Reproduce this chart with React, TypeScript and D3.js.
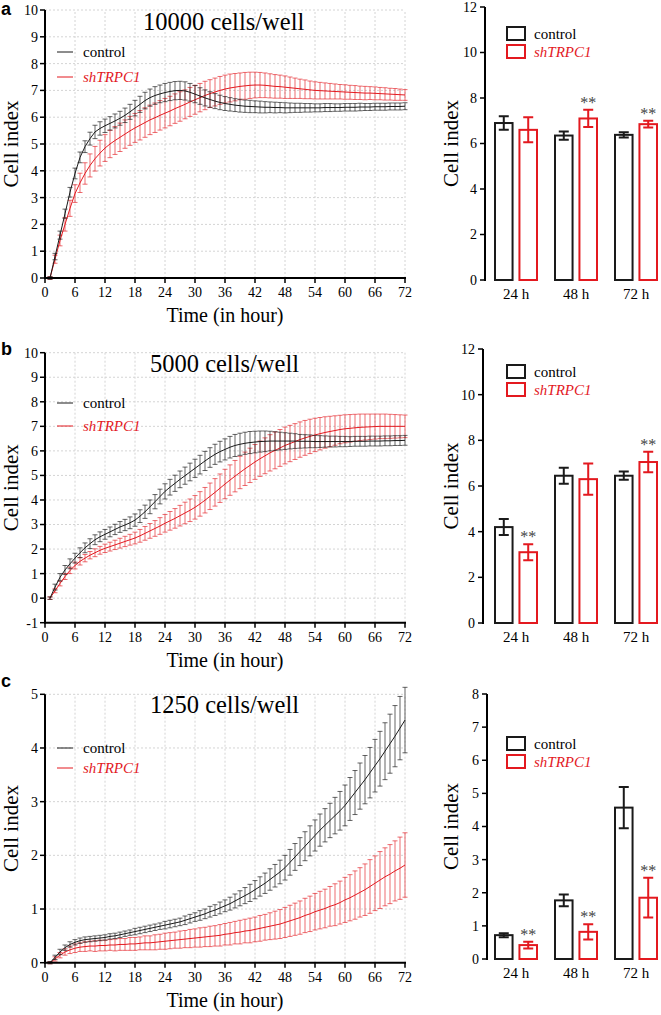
import * as d3 from 'd3';

// sampling times (hours) of the impedance readings
const HOURS = d3.range(1, 73);
const HOUR_TICKS = [0, 6, 12, 18, 24, 30, 36, 42, 48, 54, 60, 66, 72];

// panel a: 10000 cells/well
const A_CTRL = [
  0, 0.8, 1.6, 2.4, 3.2, 3.9, 4.5, 4.9, 5.2, 5.45, 5.58, 5.68,
  5.77, 5.86, 5.96, 6.07, 6.2, 6.34, 6.48, 6.62, 6.73, 6.81, 6.87, 6.92,
  6.96, 6.99, 7.0, 6.98, 6.93, 6.86, 6.79, 6.72, 6.66, 6.6, 6.55, 6.51,
  6.48, 6.45, 6.43, 6.41, 6.4, 6.39, 6.38, 6.37, 6.37, 6.36, 6.36, 6.35,
  6.35, 6.35, 6.35, 6.35, 6.35, 6.35, 6.35, 6.36, 6.36, 6.36, 6.36, 6.37,
  6.37, 6.37, 6.38, 6.38, 6.38, 6.39, 6.39, 6.39, 6.4, 6.4, 6.4, 6.41,
];
const A_CTRL_ERR = [
  0.05, 0.12, 0.15, 0.17, 0.18, 0.2, 0.2, 0.22, 0.24, 0.25, 0.25, 0.25,
  0.25, 0.26, 0.26, 0.27, 0.28, 0.29, 0.3, 0.31, 0.32, 0.33, 0.33, 0.34,
  0.34, 0.34, 0.34, 0.34, 0.33, 0.32, 0.31, 0.3, 0.29, 0.28, 0.27, 0.26,
  0.25, 0.24, 0.24, 0.23, 0.23, 0.22, 0.22, 0.21, 0.2, 0.2, 0.19, 0.19,
  0.18, 0.17, 0.17, 0.16, 0.16, 0.15, 0.15, 0.15, 0.15, 0.14, 0.14, 0.14,
  0.14, 0.14, 0.14, 0.13, 0.13, 0.13, 0.13, 0.13, 0.13, 0.13, 0.13, 0.13,
];
const A_SH = [
  0, 0.7, 1.4, 2.0, 2.6, 3.15, 3.55, 3.9, 4.2, 4.45, 4.66, 4.85,
  5.0, 5.13, 5.25, 5.37, 5.49, 5.6, 5.7, 5.8, 5.9, 5.98, 6.07, 6.15,
  6.23, 6.32, 6.4, 6.48, 6.57, 6.65, 6.73, 6.81, 6.88, 6.94, 7.0, 7.05,
  7.09, 7.12, 7.15, 7.17, 7.19, 7.2, 7.2, 7.19, 7.17, 7.15, 7.14, 7.12,
  7.1, 7.08, 7.06, 7.04, 7.02, 7.0, 6.99, 6.98, 6.97, 6.96, 6.95, 6.94,
  6.93, 6.92, 6.91, 6.9, 6.9, 6.89, 6.88, 6.87, 6.86, 6.85, 6.84, 6.83,
];
const A_SH_ERR = [
  0.05, 0.15, 0.2, 0.25, 0.3, 0.33, 0.36, 0.4, 0.43, 0.46, 0.48, 0.5,
  0.51, 0.52, 0.53, 0.53, 0.54, 0.54, 0.55, 0.55, 0.55, 0.55, 0.55, 0.55,
  0.55, 0.55, 0.55, 0.54, 0.54, 0.54, 0.53, 0.53, 0.52, 0.52, 0.52, 0.52,
  0.52, 0.51, 0.5, 0.5, 0.49, 0.48, 0.47, 0.46, 0.45, 0.44, 0.43, 0.42,
  0.4, 0.38, 0.36, 0.35, 0.33, 0.32, 0.31, 0.3, 0.29, 0.28, 0.27, 0.27,
  0.26, 0.26, 0.25, 0.25, 0.24, 0.24, 0.23, 0.23, 0.22, 0.22, 0.21, 0.2,
];

// panel b: 5000 cells/well
const B_CTRL = [
  0, 0.45, 0.85, 1.15, 1.4, 1.63, 1.85, 2.05, 2.22, 2.38, 2.5, 2.6,
  2.7, 2.8, 2.9, 2.98, 3.07, 3.18, 3.34, 3.52, 3.72, 3.93, 4.14, 4.35,
  4.52, 4.68, 4.84, 4.99, 5.14, 5.29, 5.44, 5.59, 5.73, 5.86, 5.97, 6.06,
  6.15, 6.22, 6.27, 6.31, 6.34, 6.36, 6.38, 6.39, 6.4, 6.4, 6.4, 6.4,
  6.4, 6.4, 6.39, 6.39, 6.39, 6.38, 6.38, 6.38, 6.38, 6.38, 6.38, 6.38,
  6.38, 6.39, 6.39, 6.39, 6.4, 6.4, 6.4, 6.41, 6.41, 6.42, 6.42, 6.43,
];
const B_CTRL_ERR = [
  0.05, 0.12, 0.15, 0.18, 0.2, 0.2, 0.2, 0.2, 0.2, 0.2, 0.2, 0.2,
  0.2, 0.21, 0.22, 0.23, 0.24, 0.25, 0.26, 0.27, 0.28, 0.29, 0.3, 0.31,
  0.32, 0.33, 0.34, 0.35, 0.36, 0.37, 0.38, 0.39, 0.4, 0.41, 0.42, 0.43,
  0.44, 0.45, 0.45, 0.45, 0.45, 0.44, 0.43, 0.42, 0.4, 0.38, 0.36, 0.34,
  0.32, 0.3, 0.28, 0.27, 0.26, 0.25, 0.24, 0.23, 0.22, 0.22, 0.21, 0.21,
  0.2, 0.2, 0.2, 0.2, 0.2, 0.2, 0.2, 0.2, 0.2, 0.2, 0.2, 0.2,
];
const B_SH = [
  0, 0.3, 0.6, 0.88, 1.13, 1.33, 1.5, 1.63, 1.75, 1.85, 1.95, 2.03,
  2.1, 2.17, 2.24, 2.31, 2.38, 2.45, 2.54, 2.64, 2.74, 2.84, 2.94, 3.05,
  3.15, 3.25, 3.36, 3.47, 3.58, 3.7, 3.84, 3.99, 4.15, 4.31, 4.48, 4.65,
  4.81, 4.97, 5.12, 5.27, 5.41, 5.55, 5.68, 5.8, 5.92, 6.02, 6.12, 6.22,
  6.3, 6.38, 6.46, 6.53, 6.59, 6.65, 6.7, 6.75, 6.79, 6.83, 6.87, 6.9,
  6.92, 6.94, 6.96, 6.97, 6.98, 6.99, 7.0, 7.0, 7.0, 7.0, 7.0, 7.0,
];
const B_SH_ERR = [
  0.05, 0.08, 0.1, 0.12, 0.13, 0.14, 0.15, 0.15, 0.15, 0.16, 0.16, 0.17,
  0.18, 0.19, 0.2, 0.21, 0.22, 0.24, 0.26, 0.28, 0.3, 0.32, 0.34, 0.36,
  0.38, 0.4, 0.42, 0.44, 0.46, 0.48, 0.5, 0.52, 0.54, 0.56, 0.58, 0.6,
  0.62, 0.64, 0.66, 0.68, 0.7, 0.71, 0.72, 0.73, 0.74, 0.75, 0.75, 0.75,
  0.74, 0.73, 0.72, 0.71, 0.7, 0.68, 0.66, 0.64, 0.62, 0.6, 0.58, 0.57,
  0.56, 0.55, 0.54, 0.53, 0.52, 0.51, 0.5, 0.5, 0.49, 0.48, 0.47, 0.46,
];

// panel c: 1250 cells/well
const C_CTRL = [
  0, 0.1, 0.2, 0.28, 0.34, 0.38, 0.41, 0.43, 0.44, 0.45, 0.46, 0.47,
  0.49, 0.5, 0.52, 0.54, 0.56, 0.58, 0.6, 0.62, 0.64, 0.66, 0.68, 0.7,
  0.72, 0.74, 0.76, 0.79, 0.82, 0.85, 0.88, 0.91, 0.95, 0.98, 1.02, 1.06,
  1.1, 1.15, 1.2, 1.25, 1.3, 1.36, 1.42, 1.48, 1.55, 1.62, 1.69, 1.77,
  1.87, 1.97, 2.07, 2.17, 2.27, 2.37, 2.47, 2.56, 2.65, 2.74, 2.83, 2.93,
  3.05, 3.17, 3.29, 3.41, 3.54, 3.67, 3.8, 3.94, 4.08, 4.22, 4.37, 4.52,
];
const C_CTRL_ERR = [
  0.02, 0.04, 0.05, 0.05, 0.05, 0.05, 0.05, 0.05, 0.05, 0.05, 0.05, 0.05,
  0.05, 0.05, 0.05, 0.05, 0.05, 0.06, 0.06, 0.06, 0.06, 0.06, 0.06, 0.07,
  0.07, 0.07, 0.07, 0.08, 0.08, 0.08, 0.09, 0.09, 0.1, 0.1, 0.11, 0.11,
  0.12, 0.13, 0.14, 0.15, 0.16, 0.17, 0.18, 0.19, 0.2, 0.21, 0.22, 0.23,
  0.24, 0.25, 0.26, 0.27, 0.28, 0.29, 0.3, 0.31, 0.32, 0.34, 0.36, 0.38,
  0.4, 0.41, 0.43, 0.45, 0.47, 0.49, 0.51, 0.53, 0.55, 0.57, 0.59, 0.61,
];
const C_SH = [
  0, 0.07, 0.14, 0.2, 0.24, 0.27, 0.29, 0.3, 0.31, 0.31, 0.32, 0.32,
  0.33, 0.33, 0.34, 0.34, 0.35, 0.35, 0.36, 0.37, 0.37, 0.38, 0.39, 0.4,
  0.41, 0.42, 0.43, 0.44, 0.45, 0.46, 0.47, 0.48, 0.49, 0.5, 0.51, 0.53,
  0.54, 0.56, 0.57, 0.59, 0.6, 0.62, 0.64, 0.66, 0.68, 0.7, 0.72, 0.75,
  0.78, 0.81, 0.84, 0.88, 0.91, 0.95, 0.98, 1.01, 1.05, 1.08, 1.12, 1.17,
  1.21, 1.26, 1.31, 1.36, 1.42, 1.48, 1.54, 1.6, 1.65, 1.71, 1.76, 1.82,
];
const C_SH_ERR = [
  0.02, 0.04, 0.05, 0.06, 0.07, 0.08, 0.08, 0.09, 0.09, 0.1, 0.1, 0.1,
  0.1, 0.11, 0.11, 0.11, 0.12, 0.12, 0.12, 0.13, 0.13, 0.14, 0.14, 0.15,
  0.15, 0.15, 0.16, 0.16, 0.17, 0.17, 0.18, 0.18, 0.19, 0.19, 0.2, 0.2,
  0.21, 0.21, 0.22, 0.22, 0.23, 0.23, 0.24, 0.24, 0.25, 0.26, 0.27, 0.28,
  0.29, 0.3, 0.31, 0.32, 0.33, 0.34, 0.35, 0.36, 0.37, 0.39, 0.4, 0.42,
  0.43, 0.45, 0.46, 0.48, 0.5, 0.51, 0.53, 0.54, 0.55, 0.56, 0.58, 0.6,
];

// bar charts (24 h, 48 h, 72 h)
const TIMEPOINTS = ['24 h', '48 h', '72 h'];
const A_BAR_CTRL = [6.9, 6.35, 6.38];
const A_BAR_CTRL_ERR = [0.3, 0.18, 0.12];
const A_BAR_SH = [6.6, 7.1, 6.85];
const A_BAR_SH_ERR = [0.55, 0.38, 0.15];
const A_SIG = ['', '**', '**'];
const B_BAR_CTRL = [4.2, 6.45, 6.45];
const B_BAR_CTRL_ERR = [0.35, 0.35, 0.18];
const B_BAR_SH = [3.1, 6.3, 7.05];
const B_BAR_SH_ERR = [0.35, 0.68, 0.45];
const B_SIG = ['**', '', '**'];
const C_BAR_CTRL = [0.72, 1.77, 4.57];
const C_BAR_CTRL_ERR = [0.06, 0.18, 0.62];
const C_BAR_SH = [0.42, 0.82, 1.85];
const C_BAR_SH_ERR = [0.1, 0.23, 0.6];
const C_SIG = ['**', '**', '**'];

const SERIF = '"Liberation Serif", "Times New Roman", serif';
const SANS = '"Liberation Sans", Arial, sans-serif';
const BLACK = '#1a1a1a';
const RED = '#e3191f';

interface LineProps {
  letter: string;
  letterY: number;
  title: string;
  titleX: number;
  titleY: number;
  yTop: number;
  yBottom: number;
  yMin: number;
  yMax: number;
  legendY1: number;
  legendY2: number;
  ctrl: number[];
  ctrlErr: number[];
  sh: number[];
  shErr: number[];
}

function errPath(
  vals: number[],
  errs: number[],
  x: d3.ScaleLinear<number, number>,
  y: d3.ScaleLinear<number, number>,
  cap: number,
) {
  let p = '';
  vals.forEach((v, i) => {
    const cx = x(HOURS[i]);
    const y1 = y(v + errs[i]);
    const y2 = y(v - errs[i]);
    p += `M${cx},${y1}V${y2}M${cx - cap},${y1}H${cx + cap}M${cx - cap},${y2}H${cx + cap}`;
  });
  return p;
}

function LineChart(p: LineProps) {
  const x = d3.scaleLinear().domain([0, 72]).range([45, 405]);
  const y = d3.scaleLinear().domain([p.yMin, p.yMax]).range([p.yBottom, p.yTop]);
  const yTicks = d3.range(p.yMin, p.yMax + 1);
  const line = d3
    .line<number>()
    .x((_d, i) => x(HOURS[i]))
    .y((d) => y(d));

  return (
    <g>
      <text x={1} y={p.letterY} fontFamily={SANS} fontWeight="bold" fontSize={18}>
        {p.letter}
      </text>
      {/* grid */}
      {yTicks.slice(1).map((t) => (
        <line key={'gy' + t} x1={x(0)} x2={x(72)} y1={y(t)} y2={y(t)}
          stroke="#d4d4d4" strokeWidth={1} strokeDasharray="2,2" />
      ))}
      {HOUR_TICKS.slice(1).map((t) => (
        <line key={'gx' + t} x1={x(t)} x2={x(t)} y1={y(p.yMin)} y2={y(p.yMax)}
          stroke="#d4d4d4" strokeWidth={1} strokeDasharray="2,2" />
      ))}
      {/* series */}
      <path d={errPath(p.sh, p.shErr, x, y, 2.5)} stroke={RED} strokeWidth={0.8} fill="none" opacity={0.8} />
      <path d={line(p.sh) ?? ''} stroke={RED} strokeWidth={1} fill="none" />
      <path d={errPath(p.ctrl, p.ctrlErr, x, y, 2.5)} stroke={BLACK} strokeWidth={0.8} fill="none" opacity={0.85} />
      <path d={line(p.ctrl) ?? ''} stroke={BLACK} strokeWidth={1} fill="none" />
      {/* axes */}
      <line x1={x(0)} x2={x(0)} y1={y(p.yMin) + 1} y2={y(p.yMax)} stroke="#000" strokeWidth={2} />
      <line x1={x(0) - 1} x2={x(72) + 1} y1={y(p.yMin)} y2={y(p.yMin)} stroke="#000" strokeWidth={2} />
      {yTicks.map((t) => (
        <g key={'yt' + t}>
          <line x1={x(0) - 5} x2={x(0)} y1={y(t)} y2={y(t)} stroke="#000" strokeWidth={1.5} />
          <text x={x(0) - 7} y={y(t)} dy="0.35em" textAnchor="end" fontFamily={SERIF} fontSize={14}>
            {t}
          </text>
        </g>
      ))}
      {HOUR_TICKS.map((t) => (
        <g key={'xt' + t}>
          <line x1={x(t)} x2={x(t)} y1={y(p.yMin)} y2={y(p.yMin) + 5} stroke="#000" strokeWidth={1.5} />
          <text x={x(t)} y={y(p.yMin) + 19} textAnchor="middle" fontFamily={SERIF} fontSize={14}>
            {t}
          </text>
        </g>
      ))}
      <text x={(x(0) + x(72)) / 2} y={y(p.yMin) + 44} textAnchor="middle" fontFamily={SERIF} fontSize={20}>
        Time (in hour)
      </text>
      <text
        transform={`translate(18,${(p.yTop + p.yBottom) / 2}) rotate(-90)`}
        textAnchor="middle" fontFamily={SERIF} fontSize={21}
      >
        Cell index
      </text>
      <text x={p.titleX} y={p.titleY} fontFamily={SERIF} fontSize={24.5}>
        {p.title}
      </text>
      {/* legend */}
      <line x1={57} x2={73} y1={p.legendY1} y2={p.legendY1} stroke={BLACK} strokeWidth={1} />
      <text x={83} y={p.legendY1 + 5} fontFamily={SERIF} fontSize={15}>control</text>
      <line x1={57} x2={73} y1={p.legendY2} y2={p.legendY2} stroke={RED} strokeWidth={1} />
      <text x={83} y={p.legendY2 + 5} fontFamily={SERIF} fontSize={15} fontStyle="italic" fill={RED}>
        shTRPC1
      </text>
    </g>
  );
}

interface BarProps {
  axisX: number;
  yTop: number;
  yBottom: number;
  yMax: number;
  step: number;
  legendY: number;
  ctrl: number[];
  ctrlErr: number[];
  sh: number[];
  shErr: number[];
  sig: string[];
}

function BarChart(p: BarProps) {
  const y = d3.scaleLinear().domain([0, p.yMax]).range([p.yBottom, p.yTop]);
  const xg = d3.scaleBand<string>().domain(TIMEPOINTS).range([486, 666]);
  const xs = d3.scaleBand<string>().domain(['control', 'shTRPC1']).range([8, 52]).paddingInner(0.2);
  const bw = xs.bandwidth();
  const ticks = d3.range(0, p.yMax + 0.001, p.step);
  const groups = [
    { key: 'control', vals: p.ctrl, errs: p.ctrlErr, color: BLACK },
    { key: 'shTRPC1', vals: p.sh, errs: p.shErr, color: RED },
  ];

  return (
    <g>
      {groups.map((g) =>
        TIMEPOINTS.map((tp, i) => {
          const x0 = (xg(tp) ?? 0) + (xs(g.key) ?? 0);
          const cx = x0 + bw / 2;
          const v = g.vals[i];
          const e = g.errs[i];
          return (
            <g key={g.key + tp}>
              <rect x={x0 + 1} y={y(v)} width={bw - 2} height={y(0) - y(v)}
                fill="#fff" stroke={g.color} strokeWidth={2} />
              <path
                d={`M${cx},${y(v + e)}V${y(v - e)}M${cx - 5},${y(v + e)}H${cx + 5}M${cx - 5},${y(v - e)}H${cx + 5}`}
                stroke={g.color} strokeWidth={2} fill="none"
              />
              {g.key === 'shTRPC1' && p.sig[i] && (
                <text x={cx} y={y(v + e) - 2} textAnchor="middle" fontFamily={SERIF}
                  fontSize={16} fill="#444">
                  {p.sig[i]}
                </text>
              )}
            </g>
          );
        }),
      )}
      <line x1={p.axisX} x2={p.axisX} y1={y(0) + 1} y2={y(p.yMax)} stroke="#000" strokeWidth={2} />
      {ticks.map((t) => (
        <g key={'bt' + t}>
          <line x1={p.axisX - 5} x2={p.axisX} y1={y(t)} y2={y(t)} stroke="#000" strokeWidth={1.5} />
          <text x={p.axisX - 8} y={y(t)} dy="0.35em" textAnchor="end" fontFamily={SERIF} fontSize={14}>
            {t}
          </text>
        </g>
      ))}
      {TIMEPOINTS.map((tp) => (
        <text key={tp} x={(xg(tp) ?? 0) + xg.bandwidth() / 2} y={y(0) + 19}
          textAnchor="middle" fontFamily={SERIF} fontSize={15}>
          {tp}
        </text>
      ))}
      <text
        transform={`translate(458,${(p.yTop + p.yBottom) / 2}) rotate(-90)`}
        textAnchor="middle" fontFamily={SERIF} fontSize={21}
      >
        Cell index
      </text>
      <rect x={507} y={p.legendY} width={18} height={13} fill="#fff" stroke={BLACK} strokeWidth={2} />
      <text x={534} y={p.legendY + 12} fontFamily={SERIF} fontSize={15}>control</text>
      <rect x={507} y={p.legendY + 18} width={18} height={13} fill="#fff" stroke={RED} strokeWidth={2} />
      <text x={534} y={p.legendY + 30} fontFamily={SERIF} fontSize={15} fontStyle="italic" fill={RED}>
        shTRPC1
      </text>
    </g>
  );
}

export default function App() {
  return (
    <svg width={661} height={1015} style={{ position: 'absolute', left: 0, top: 0, background: '#fff' }}>
      <LineChart letter="a" letterY={15} title="10000 cells/well" titleX={143} titleY={30}
        yTop={10} yBottom={278} yMin={0} yMax={10} legendY1={52} legendY2={77}
        ctrl={A_CTRL} ctrlErr={A_CTRL_ERR} sh={A_SH} shErr={A_SH_ERR} />
      <BarChart axisX={485} yTop={7} yBottom={280} yMax={12} step={2} legendY={27}
        ctrl={A_BAR_CTRL} ctrlErr={A_BAR_CTRL_ERR} sh={A_BAR_SH} shErr={A_BAR_SH_ERR} sig={A_SIG} />

      <LineChart letter="b" letterY={355} title="5000 cells/well" titleX={150} titleY={372}
        yTop={352.7} yBottom={622.7} yMin={-1} yMax={10} legendY1={403} legendY2={426}
        ctrl={B_CTRL} ctrlErr={B_CTRL_ERR} sh={B_SH} shErr={B_SH_ERR} />
      <BarChart axisX={483} yTop={349} yBottom={623} yMax={12} step={2} legendY={365}
        ctrl={B_BAR_CTRL} ctrlErr={B_BAR_CTRL_ERR} sh={B_BAR_SH} shErr={B_BAR_SH_ERR} sig={B_SIG} />

      <LineChart letter="c" letterY={687} title="1250 cells/well" titleX={150} titleY={713}
        yTop={694.3} yBottom={962.7} yMin={0} yMax={5} legendY1={748} legendY2={768}
        ctrl={C_CTRL} ctrlErr={C_CTRL_ERR} sh={C_SH} shErr={C_SH_ERR} />
      <BarChart axisX={487} yTop={694} yBottom={959} yMax={8} step={1} legendY={737}
        ctrl={C_BAR_CTRL} ctrlErr={C_BAR_CTRL_ERR} sh={C_BAR_SH} shErr={C_BAR_SH_ERR} sig={C_SIG} />
    </svg>
  );
}
